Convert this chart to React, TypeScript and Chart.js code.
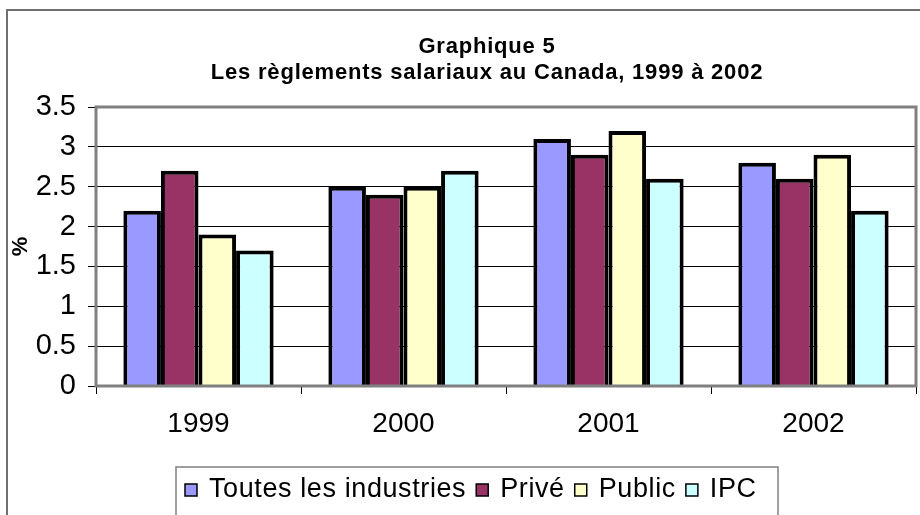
import React, { useEffect, useRef } from "react";
import { Chart, registerables } from "chart.js";

Chart.register(...registerables);

const categories = ["1999", "2000", "2001", "2002"];
const toutesLesIndustries = [2.2, 2.5, 3.1, 2.8];
const prive = [2.7, 2.4, 2.9, 2.6];
const publicSecteur = [1.9, 2.5, 3.2, 2.9];
const ipc = [1.7, 2.7, 2.6, 2.2];
const seriesNames = ["Toutes les industries", "Privé", "Public", "IPC"];
const seriesColors = ["#9999FF", "#993366", "#FFFFCC", "#CCFFFF"];
const titleLines = ["Graphique 5", "Les règlements salariaux au Canada, 1999 à 2002"];
const yAxisTitle = "%";
const yMin = 0;
const yMax = 3.5;
const yStep = 0.5;

const FONT = "'Liberation Sans', Arial, sans-serif";

const decorPlugin = {
  id: "decor",
  beforeDraw(chart: any) {
    const ctx = chart.ctx;
    ctx.save();
    ctx.fillStyle = "#ffffff";
    ctx.fillRect(0, 0, chart.width, chart.height);
    // outer frame
    ctx.strokeStyle = "#707070";
    ctx.lineWidth = 2;
    ctx.strokeRect(7, 10, chart.width + 20, chart.height + 40);
    // title
    ctx.fillStyle = "#000";
    ctx.textAlign = "center";
    ctx.textBaseline = "middle";
    ctx.font = `bold 22px ${FONT}`;
    (ctx as any).letterSpacing = "0.8px";
    const cx = 487;
    ctx.fillText(titleLines[0], cx, 47);
    ctx.fillText(titleLines[1], cx, 73);
    ctx.restore();
  },
  afterDatasetsDraw(chart: any) {
    const ctx = chart.ctx;
    const a = chart.chartArea;
    ctx.save();
    ctx.strokeStyle = "#808080";
    ctx.lineWidth = 3;
    ctx.strokeRect(a.left, a.top, a.right - a.left, a.bottom - a.top);
    ctx.restore();
  },
  afterDraw(chart: any) {
    const ctx = chart.ctx;
    ctx.save();
    // legend box
    ctx.strokeStyle = "#808080";
    ctx.lineWidth = 1.5;
    ctx.strokeRect(176, 467, 602, 100);
    ctx.font = `27px ${FONT}`;
    (ctx as any).letterSpacing = "0.6px";
    ctx.textBaseline = "middle";
    ctx.textAlign = "left";
    let x = 185;
    const y = 490;
    chart.data.datasets.forEach((ds: any) => {
      ctx.fillStyle = ds.backgroundColor;
      ctx.fillRect(x, y - 6, 12, 12);
      ctx.strokeStyle = "#000";
      ctx.lineWidth = 1.5;
      ctx.strokeRect(x, y - 6, 12, 12);
      x += 24;
      ctx.fillStyle = "#000";
      ctx.fillText(ds.label, x, y);
      x += ctx.measureText(ds.label).width + 10;
    });
    ctx.restore();
  },
};

export default function App() {
  const ref = useRef<HTMLCanvasElement | null>(null);
  useEffect(() => {
    if (!ref.current) return;
    Chart.defaults.font.family = FONT;
    const values = [toutesLesIndustries, prive, publicSecteur, ipc];
    const chart = new Chart(ref.current, {
      type: "bar",
      data: {
        labels: categories,
        datasets: values.map((v, i) => ({
          label: seriesNames[i],
          data: v,
          backgroundColor: seriesColors[i],
          borderColor: "#000000",
          borderWidth: 4,
          categoryPercentage: 0.733,
          barPercentage: 1.0,
        })),
      },
      options: {
        animation: false,
        responsive: false,
        devicePixelRatio: 1,
        layout: { padding: { top: 107, right: 4, left: 0, bottom: 0 } },
        plugins: {
          legend: { display: false },
          title: { display: false },
          tooltip: { enabled: false },
        },
        scales: {
          x: {
            type: "category",
            offset: true,
            grid: {
              offset: true,
              drawOnChartArea: false,
              drawTicks: true,
              tickLength: 8,
              color: "#000",
              lineWidth: 1,
            },
            border: { display: false },
            ticks: {
              color: "#000",
              font: { size: 28 },
              padding: 13,
              maxRotation: 0,
            },
            afterFit: (scale: any) => {
              scale.height = 129;
            },
          },
          y: {
            min: yMin,
            max: yMax,
            grid: {
              color: "#000",
              lineWidth: 1,
              tickLength: 8,
              drawTicks: true,
            },
            border: { display: false },
            ticks: {
              stepSize: yStep,
              color: "#000",
              font: { size: 29 },
              padding: 12,
              callback: (v: any) => String(Number(v)),
            },
            title: {
              display: true,
              text: yAxisTitle,
              color: "#000",
              font: { size: 22, weight: "bold" },
              padding: { top: 8, bottom: 0 },
            },
            afterFit: (scale: any) => {
              scale.width = 96;
            },
          },
        },
      },
      plugins: [decorPlugin],
    });
    return () => chart.destroy();
  }, []);
  return (
    <div style={{ position: "fixed", left: 0, top: 0, width: 920, height: 515, background: "#fff" }}>
      <canvas ref={ref} width={920} height={515} style={{ display: "block" }} />
    </div>
  );
}
